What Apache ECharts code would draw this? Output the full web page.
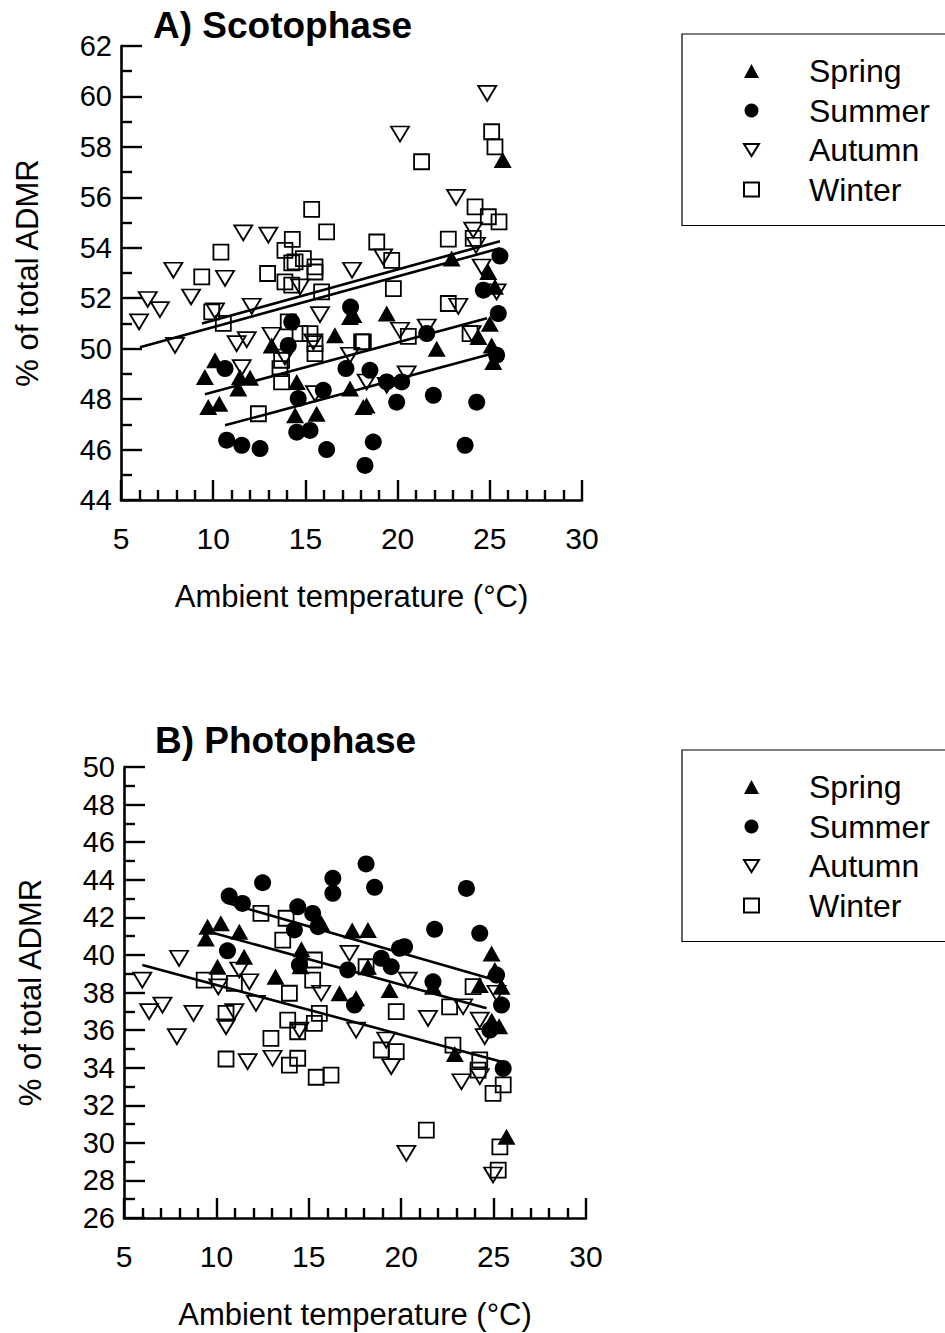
<!DOCTYPE html>
<html>
<head>
<meta charset="utf-8">
<script src="https://cdn.jsdelivr.net/npm/echarts@6/dist/echarts.min.js"></script>
<style>
  html, body { margin: 0; padding: 0; background: #fff; }
  #chart { width: 945px; height: 1333px; }
</style>
</head>
<body>
<div id="chart"></div>
<script>
// Seasons shown in each legend
const seasons = ['Spring', 'Summer', 'Autumn', 'Winter'];
const xTicks = [5, 10, 15, 20, 25, 30];

// A) Scotophase: [ambient temperature (°C), % of total ADMR]
const scotoSpring = [
  [10.1, 49.54], [9.55, 48.88], [11.45, 48.88], [12.0, 48.85], [9.73, 47.69], [10.33, 47.82],
  [11.36, 48.42], [13.17, 50.13], [14.53, 48.68], [14.44, 47.36], [15.61, 47.42], [16.6, 50.53],
  [17.42, 51.26], [17.42, 48.42], [18.14, 47.69], [17.6, 51.33], [19.41, 51.39], [22.12, 50.0],
  [18.32, 47.75], [25.0, 50.99], [24.38, 50.46], [25.1, 50.13], [25.19, 49.47], [25.28, 52.45],
  [25.7, 57.48], [22.93, 53.57], [24.92, 53.04]
];
const scotoSummer = [
  [14.26, 51.06], [14.07, 50.13], [10.64, 49.21], [10.73, 46.37], [11.55, 46.17], [12.54, 46.04],
  [14.61, 48.02], [14.53, 46.69], [15.25, 46.76], [15.97, 48.35], [17.45, 51.65], [17.2, 49.21],
  [16.15, 46.0], [18.5, 49.14], [19.41, 48.68], [20.22, 48.68], [19.95, 47.88], [21.94, 48.15],
  [24.29, 47.88], [18.68, 46.3], [18.23, 45.37], [23.66, 46.17], [24.65, 52.32], [25.46, 51.39],
  [25.37, 49.74], [21.58, 50.6], [25.55, 53.67]
];
const scotoAutumn = [
  [5.98, 51.06], [6.45, 51.95], [7.11, 51.55], [7.93, 50.13], [7.84, 53.11], [8.8, 52.05],
  [10.1, 51.5], [11.63, 54.59], [12.99, 54.5], [10.64, 52.79], [12.09, 51.68], [11.27, 50.2],
  [11.82, 50.36], [11.55, 49.25], [13.17, 50.53], [13.89, 49.67], [15.52, 48.22], [15.79, 51.35],
  [17.53, 53.11], [14.71, 52.45], [15.43, 50.27], [24.86, 60.12], [20.13, 58.51], [23.17, 56.0],
  [24.1, 54.7], [24.25, 54.1], [19.22, 53.64], [24.56, 53.24], [23.29, 51.68], [20.13, 50.73],
  [21.58, 50.86], [24.02, 50.6], [25.37, 52.25], [17.42, 49.74], [18.32, 48.68], [19.41, 48.55],
  [20.49, 49.0]
];
const scotoWinter = [
  [15.34, 55.52], [16.15, 54.63], [14.29, 54.33], [10.42, 53.83], [13.89, 53.9], [14.44, 53.44],
  [14.89, 53.57], [15.52, 53.24], [9.38, 52.85], [12.95, 52.98], [14.26, 53.4], [13.89, 52.65],
  [14.26, 52.52], [15.52, 53.04], [15.88, 52.25], [14.07, 51.06], [14.71, 50.6], [15.25, 50.6],
  [15.52, 49.8], [13.71, 49.54], [13.62, 49.21], [13.71, 48.68], [12.45, 47.42], [18.05, 50.27],
  [10.55, 51.0], [9.92, 51.46], [15.52, 50.2], [25.1, 58.6], [25.28, 58.0], [21.3, 57.41],
  [24.2, 55.62], [24.92, 55.23], [25.5, 55.03], [22.75, 54.34], [24.1, 54.37], [18.87, 54.23],
  [19.68, 53.5], [19.77, 52.38], [22.75, 51.79], [18.14, 50.27], [20.58, 50.49], [23.93, 50.6]
];
// Regression lines (start and end points) for the scotophase
const scotoFitSpring = [[9.55, 48.19], [24.85, 51.21]];
const scotoFitSummer = [[10.64, 46.96], [25.0, 49.78]];
const scotoFitAutumn = [[6.03, 50.06], [25.55, 53.98]];
const scotoFitWinter = [[9.39, 51.0], [25.55, 54.26]];

// B) Photophase
const photoSpring = [
  [9.52, 41.5], [10.24, 41.68], [9.43, 40.88], [11.24, 41.23], [11.5, 39.9], [10.06, 39.37],
  [13.2, 38.84], [14.6, 40.3], [14.55, 39.4], [17.35, 41.3], [18.2, 41.33], [16.66, 37.96],
  [17.56, 37.69], [19.37, 38.13], [21.72, 38.31], [24.25, 38.4], [25.43, 38.31], [22.9, 34.73],
  [25.7, 30.32], [24.89, 40.08], [25.07, 39.2], [18.2, 39.37], [15.67, 41.68], [24.9, 36.5],
  [25.3, 36.2]
];
const photoSummer = [
  [12.5, 43.84], [10.69, 43.13], [11.41, 42.74], [14.4, 42.56], [15.21, 42.21], [10.6, 40.22],
  [18.1, 44.84], [18.56, 43.6], [23.53, 43.54], [21.81, 41.36], [24.25, 41.15], [18.92, 39.82],
  [19.46, 39.37], [19.91, 40.35], [20.18, 40.44], [17.11, 39.2], [21.72, 38.57], [25.16, 38.93],
  [17.47, 37.33], [25.43, 37.33], [25.52, 33.96], [24.8, 36.0], [14.49, 39.46], [14.22, 41.33],
  [16.3, 44.08], [16.3, 43.28], [15.5, 41.5]
];
const photoAutumn = [
  [7.98, 39.82], [5.99, 38.66], [11.24, 39.2], [11.78, 38.57], [6.36, 36.98], [7.08, 37.33],
  [8.76, 36.89], [7.86, 35.65], [10.52, 36.18], [12.14, 37.42], [11.69, 34.32], [13.04, 34.5],
  [10.97, 36.98], [14.49, 36.0], [15.67, 37.96], [17.56, 36.0], [19.19, 35.47], [19.46, 34.05],
  [21.45, 36.62], [23.35, 37.24], [24.25, 36.53], [23.26, 33.25], [24.25, 33.52], [24.52, 35.65],
  [20.28, 29.44], [24.97, 28.29], [25.16, 37.96], [17.2, 40.08], [20.36, 38.66], [10.1, 38.3]
];
const photoWinter = [
  [12.41, 42.21], [13.77, 41.95], [13.59, 40.79], [9.34, 38.66], [10.97, 38.49], [15.3, 39.73],
  [13.95, 37.96], [15.21, 38.66], [13.86, 36.53], [14.4, 35.91], [12.95, 35.56], [15.57, 36.89],
  [13.95, 34.14], [14.4, 34.5], [10.52, 36.89], [15.3, 36.36], [10.52, 34.46], [15.4, 33.49],
  [16.2, 33.6], [19.73, 36.98], [22.62, 37.24], [18.92, 34.94], [19.73, 34.85], [22.8, 35.2],
  [24.25, 34.41], [24.16, 33.87], [25.52, 33.08], [24.97, 32.63], [21.36, 30.68], [25.34, 29.79],
  [25.25, 28.55], [18.1, 39.37], [23.89, 38.31]
];
// Regression lines for the photophase
const photoFitSummer = [[10.6, 42.76], [24.8, 38.75]];
const photoFitSpring = [[9.9, 41.15], [24.62, 37.16]];
const photoFitAutumn = [[5.99, 39.46], [25.43, 34.32]];

const FONT = "'Liberation Sans', Arial, Helvetica, sans-serif";
const BLACK = '#000';
const HOLLOW = 'rgba(255,255,255,0)';

// Marker styles for each season (open triangle points downwards)
const markers = {
  Spring: { symbol: 'triangle', symbolSize: [18, 16],
            itemStyle: { color: BLACK, borderWidth: 0, opacity: 1 } },
  Summer: { symbol: 'circle', symbolSize: 17,
            itemStyle: { color: BLACK, borderWidth: 0, opacity: 1 } },
  Autumn: { symbol: 'path://M0,0L20,0L10,16Z', symbolSize: [18, 15],
            itemStyle: { color: HOLLOW, borderColor: BLACK, borderWidth: 1.8, opacity: 1 } },
  Winter: { symbol: 'rect', symbolSize: 15,
            itemStyle: { color: HOLLOW, borderColor: BLACK, borderWidth: 1.8, opacity: 1 } }
};

function scatter(name, data, idx) {
  const m = markers[name];
  return {
    type: 'scatter', name: name, xAxisIndex: idx, yAxisIndex: idx, data: data,
    symbol: m.symbol, symbolSize: m.symbolSize,
    itemStyle: m.itemStyle, silent: true, z: 3
  };
}
function fit(name, data, idx) {
  return {
    type: 'line', name: name, xAxisIndex: idx, yAxisIndex: idx, data: data,
    showSymbol: false, symbol: 'none', silent: true, z: 4,
    lineStyle: { color: BLACK, width: 2.6 }
  };
}

function xAxisFor(gridIndex) {
  return {
    type: 'value', gridIndex: gridIndex, min: xTicks[0], max: xTicks[xTicks.length - 1], interval: 5,
    name: 'Ambient temperature (°C)', nameLocation: 'middle', nameGap: 81,
    nameTextStyle: { fontFamily: FONT, fontSize: 31, color: BLACK },
    axisLine: { onZero: false, lineStyle: { color: BLACK, width: 2.6 } },
    axisTick: { inside: true, length: 20, lineStyle: { color: BLACK, width: 2.4 } },
    minorTick: { show: true, splitNumber: 5, length: 10, lineStyle: { color: BLACK, width: 2.4 } },
    axisLabel: { fontFamily: FONT, fontSize: 30, color: BLACK, margin: 23 },
    splitLine: { show: false }
  };
}
function yAxisFor(gridIndex, min, max) {
  return {
    type: 'value', gridIndex: gridIndex, min: min, max: max, interval: 2,
    name: '% of total ADMR', nameLocation: 'middle', nameGap: 78, nameRotate: 90,
    nameTextStyle: { fontFamily: FONT, fontSize: 31, color: BLACK },
    axisLine: { onZero: false, lineStyle: { color: BLACK, width: 2.6 } },
    axisTick: { inside: true, length: 21, lineStyle: { color: BLACK, width: 2.4 } },
    minorTick: { show: true, splitNumber: 2, length: 11, lineStyle: { color: BLACK, width: 2.4 } },
    axisLabel: { fontFamily: FONT, fontSize: 29, color: BLACK, margin: 9 },
    splitLine: { show: false }
  };
}
function legendAt(top) {
  return {
    data: seasons, orient: 'vertical', left: 682, top: top,
    padding: [21, 80, 20, 61], itemGap: 7.5, itemWidth: 15, itemHeight: 14,
    borderColor: BLACK, borderWidth: 1.2, selectedMode: false,
    textStyle: { fontFamily: FONT, fontSize: 32, color: BLACK, lineHeight: 30.5, padding: [0, 0, 0, 45] }
  };
}

const chart = echarts.init(document.getElementById('chart'), null, { renderer: 'svg' });
chart.setOption({
  backgroundColor: '#fff',
  animation: false,
  title: [
    { text: 'A) Scotophase', left: 148, top: 2,
      textStyle: { fontFamily: FONT, fontSize: 37, fontWeight: 'bold', color: BLACK } },
    { text: 'B) Photophase', left: 150, top: 717,
      textStyle: { fontFamily: FONT, fontSize: 37, fontWeight: 'bold', color: BLACK } }
  ],
  legend: [legendAt(34), legendAt(750)],
  grid: [
    { left: 121, top: 46, width: 461, height: 454 },
    { left: 124, top: 767, width: 462, height: 451 }
  ],
  xAxis: [xAxisFor(0), xAxisFor(1)],
  yAxis: [yAxisFor(0, 44, 62), yAxisFor(1, 26, 50)],
  series: [
    scatter('Winter', scotoWinter, 0),
    scatter('Autumn', scotoAutumn, 0),
    scatter('Summer', scotoSummer, 0),
    scatter('Spring', scotoSpring, 0),
    fit('Spring fit', scotoFitSpring, 0),
    fit('Summer fit', scotoFitSummer, 0),
    fit('Autumn fit', scotoFitAutumn, 0),
    fit('Winter fit', scotoFitWinter, 0),
    scatter('Winter', photoWinter, 1),
    scatter('Autumn', photoAutumn, 1),
    scatter('Summer', photoSummer, 1),
    scatter('Spring', photoSpring, 1),
    fit('Summer fit', photoFitSummer, 1),
    fit('Spring fit', photoFitSpring, 1),
    fit('Autumn fit', photoFitAutumn, 1)
  ]
});
</script>
</body>
</html>
